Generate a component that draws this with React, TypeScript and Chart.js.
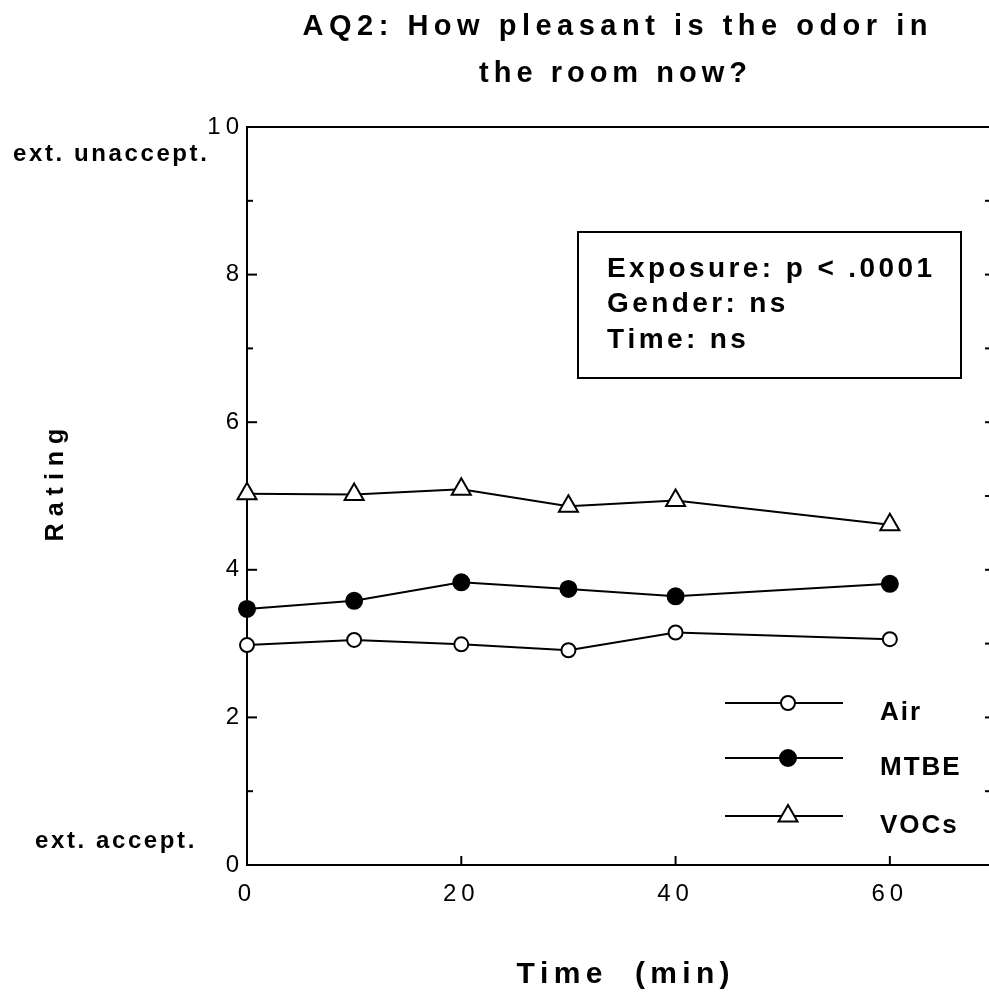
import React, { useEffect, useRef } from "react";
import { Chart, registerables } from "chart.js";

Chart.register(...registerables);

// ---------- data ----------
const titleLines = ["AQ2: How pleasant is the odor in", "the room now?"];
const times = [0, 10, 20, 30, 40, 60];
const airValues = [2.98, 3.05, 2.99, 2.91, 3.15, 3.06];
const mtbeValues = [3.47, 3.58, 3.83, 3.74, 3.64, 3.81];
const vocValues = [5.03, 5.02, 5.09, 4.86, 4.94, 4.61];
const seriesNames = ["Air", "MTBE", "VOCs"];
const xLabelTicks = [0, 20, 40, 60];
const statsLines = ["Exposure: p < .0001", "Gender: ns", "Time: ns"];
const anchorTopText = "ext. unaccept.";
const anchorBottomText = "ext. accept.";
const xTitleText = "Time  (min)";
const yTitleText = "Rating";

const FONT = "'Liberation Sans', Arial, Helvetica, sans-serif";

function spacedText(
  ctx: CanvasRenderingContext2D,
  text: string,
  x: number,
  y: number,
  spacing: number,
  align: "left" | "center"
) {
  const chars = Array.from(text);
  const widths = chars.map((c) => ctx.measureText(c).width);
  const total = widths.reduce((a, b) => a + b, 0) + spacing * (chars.length - 1);
  let cx = align === "center" ? x - total / 2 : x;
  ctx.textAlign = "left";
  chars.forEach((c, i) => {
    ctx.fillText(c, cx, y);
    cx += widths[i] + spacing;
  });
}

function drawMarker(ctx: CanvasRenderingContext2D, kind: number, x: number, y: number) {
  ctx.save();
  ctx.lineWidth = 2;
  ctx.strokeStyle = "#000";
  ctx.beginPath();
  if (kind === 0) {
    ctx.arc(x, y, 7, 0, Math.PI * 2);
    ctx.fillStyle = "#fff";
  } else if (kind === 1) {
    ctx.arc(x, y, 8, 0, Math.PI * 2);
    ctx.fillStyle = "#000";
  } else {
    const r = 11;
    ctx.moveTo(x, y - r);
    ctx.lineTo(x + r * Math.sin((2 * Math.PI) / 3), y + r / 2);
    ctx.lineTo(x - r * Math.sin((2 * Math.PI) / 3), y + r / 2);
    ctx.closePath();
    ctx.fillStyle = "#fff";
  }
  ctx.fill();
  ctx.stroke();
  ctx.restore();
}

const decorPlugin = {
  id: "decor",
  beforeDraw(chart: any) {
    (chart.ctx as any).letterSpacing = "5px";
  },
  beforeDatasetsDraw(chart: any) {
    const ctx: CanvasRenderingContext2D = chart.ctx;
    const { left, right, top, bottom } = chart.chartArea;
    const xs = chart.scales.x;
    const ys = chart.scales.y;
    ctx.save();
    ctx.strokeStyle = "#000";
    ctx.lineWidth = 2;
    ctx.strokeRect(left, top, right - left, bottom - top);
    const seg = (x1: number, y1: number, x2: number, y2: number) => {
      ctx.beginPath();
      ctx.moveTo(x1, y1);
      ctx.lineTo(x2, y2);
      ctx.stroke();
    };
    for (let v = 0; v <= 10; v++) {
      const py = ys.getPixelForValue(v);
      seg(left, py, left + (v % 2 === 0 ? 10 : 6), py);
      seg(right, py, right - 12, py);
    }
    for (const v of xLabelTicks) {
      const px = xs.getPixelForValue(v);
      seg(px, bottom, px, bottom - 9);
    }
    ctx.restore();
  },
  afterDraw(chart: any) {
    const ctx: CanvasRenderingContext2D = chart.ctx;
    ctx.save();
    (ctx as any).letterSpacing = "0px";
    ctx.fillStyle = "#000";
    ctx.textBaseline = "alphabetic";

    // title
    ctx.font = `bold 29px ${FONT}`;
    spacedText(ctx, titleLines[0], 615, 35, 5.5, "center");
    spacedText(ctx, titleLines[1], 613, 82, 5, "center");

    // axis titles
    ctx.font = `bold 30px ${FONT}`;
    spacedText(ctx, xTitleText, 623, 983, 5.3, "center");
    ctx.save();
    ctx.translate(63, 485);
    ctx.rotate(-Math.PI / 2);
    ctx.font = `bold 25px ${FONT}`;
    spacedText(ctx, yTitleText, 0, 0, 7, "center");
    ctx.restore();

    // scale end annotations
    ctx.font = `bold 24px ${FONT}`;
    spacedText(ctx, anchorTopText, 13, 161, 2.6, "left");
    spacedText(ctx, anchorBottomText, 35, 848, 2.6, "left");

    // stats box
    ctx.lineWidth = 2;
    ctx.strokeStyle = "#000";
    ctx.strokeRect(578, 232, 383, 146);
    ctx.font = `bold 28px ${FONT}`;
    const statY = [277, 312, 348];
    statsLines.forEach((s, i) => spacedText(ctx, s, 607, statY[i], 3.4, "left"));

    // legend
    const legY = [703, 758, 816];
    const labY = [720, 775, 833];
    ctx.font = `bold 26px ${FONT}`;
    seriesNames.forEach((name, i) => {
      ctx.beginPath();
      ctx.moveTo(725, legY[i]);
      ctx.lineTo(843, legY[i]);
      ctx.stroke();
      drawMarker(ctx, i, 788, legY[i]);
      spacedText(ctx, name, 880, labY[i], 2, "left");
    });
    ctx.restore();
  },
};

export default function App() {
  const canvasRef = useRef<HTMLCanvasElement | null>(null);

  useEffect(() => {
    if (!canvasRef.current) return;
    const mk = (vals: number[]) => times.map((t, i) => ({ x: t, y: vals[i] }));
    const base = {
      borderColor: "#000",
      borderWidth: 2,
      pointBorderColor: "#000",
      pointBorderWidth: 2,
      tension: 0,
      clip: false as any,
    };
    const chart = new Chart(canvasRef.current, {
      type: "line",
      data: {
        datasets: [
          {
            ...base,
            label: seriesNames[0],
            data: mk(airValues),
            pointStyle: "circle",
            pointRadius: 7,
            pointBackgroundColor: "#fff",
          },
          {
            ...base,
            label: seriesNames[1],
            data: mk(mtbeValues),
            pointStyle: "circle",
            pointRadius: 8,
            pointBackgroundColor: "#000",
          },
          {
            ...base,
            label: seriesNames[2],
            data: mk(vocValues),
            pointStyle: "triangle",
            pointRadius: 11,
            pointBackgroundColor: "#fff",
          },
        ],
      },
      options: {
        animation: false,
        responsive: false,
        devicePixelRatio: 1,
        layout: { padding: { left: 0, top: 127, right: 0, bottom: 0 } },
        plugins: {
          legend: { display: false },
          title: { display: false },
          tooltip: { enabled: false },
        },
        scales: {
          x: {
            type: "linear",
            min: 0,
            max: 70,
            grid: { display: false, drawTicks: false },
            border: { display: false },
            ticks: {
              stepSize: 10,
              autoSkip: false,
              maxRotation: 0,
              padding: 15,
              color: "#000",
              font: { family: FONT, size: 24 },
              callback: (v: any) => (xLabelTicks.includes(Number(v)) ? String(v) : ""),
            },
            afterFit: (s: any) => {
              s.height = 127;
            },
          },
          y: {
            type: "linear",
            min: 0,
            max: 10,
            grid: { display: false, drawTicks: false },
            border: { display: false },
            ticks: {
              stepSize: 2,
              padding: 3,
              color: "#000",
              font: { family: FONT, size: 24 },
            },
            afterFit: (s: any) => {
              s.width = 247;
            },
          },
        },
      },
      plugins: [decorPlugin],
    });
    return () => chart.destroy();
  }, []);

  return (
    <div
      style={{
        position: "fixed",
        left: 0,
        top: 0,
        width: 989,
        height: 992,
        overflow: "hidden",
        background: "#fff",
      }}
    >
      <canvas ref={canvasRef} width={1012} height={992} style={{ display: "block" }} />
    </div>
  );
}
